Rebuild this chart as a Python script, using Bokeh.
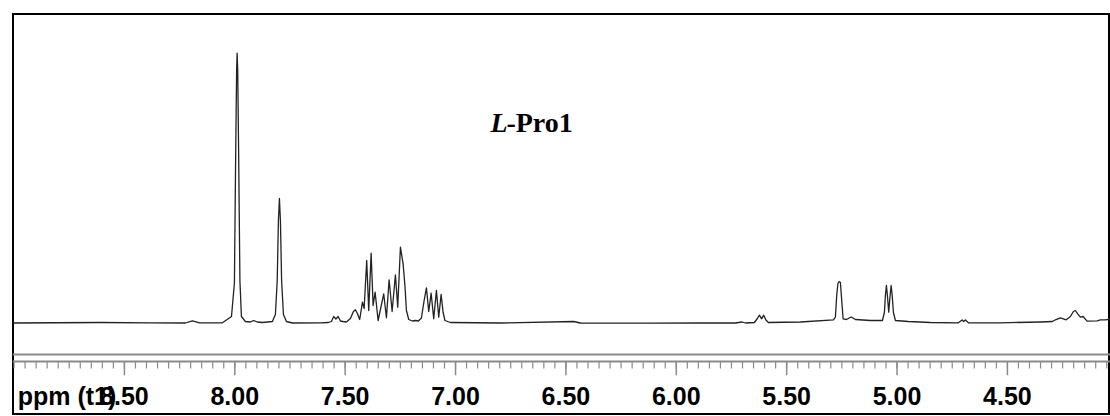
from bokeh.plotting import figure
from bokeh.models import Range1d, FixedTicker, NumeralTickFormatter, Span, Label
from bokeh.embed import file_html
from bokeh.resources import INLINE

# Chemical shift (ppm) and intensity (arbitrary units)
ppm = [9.007, 8.609, 8.382, 8.224, 8.192, 8.160, 8.056, 8.015, 8.0017, 7.9958, 7.9917,
       7.9895, 7.9867, 7.9827, 7.9768, 7.9700, 7.9519, 7.9292, 7.9156, 7.8975, 7.8748,
       7.8295, 7.8160, 7.8078, 7.8024, 7.7978, 7.7933, 7.7879, 7.7797, 7.7661, 7.7389,
       7.6121, 7.5759, 7.5623, 7.5519, 7.5419, 7.5319, 7.5215, 7.5093, 7.4943, 7.4762,
       7.4626, 7.4536, 7.4445, 7.4341, 7.4218, 7.4141, 7.4024, 7.3933, 7.3824, 7.3734,
       7.3643, 7.3507, 7.3254, 7.3131, 7.3009, 7.2873, 7.2724, 7.2619, 7.2497, 7.2375,
       7.2293, 7.2225, 7.2121, 7.1953, 7.1818, 7.1682, 7.1546, 7.1423, 7.1319, 7.1215,
       7.1106, 7.0989, 7.0866, 7.0762, 7.0653, 7.0563, 7.0481, 7.0232, 6.7967, 6.4660,
       6.4343, 6.1172, 5.8907, 5.7322, 5.7018, 5.6869, 5.6461, 5.6325, 5.6234, 5.6135,
       5.6040, 5.5940, 5.5827, 5.4377, 5.2882, 5.2792, 5.2733, 5.2678, 5.2624, 5.2565,
       5.2506, 5.2443, 5.2293, 5.2080, 5.1886, 5.1206, 5.0662, 5.0572, 5.0527, 5.0481,
       5.0436, 5.0377, 5.0314, 5.0268, 5.0219, 5.0164, 5.0074, 4.9485, 4.8488, 4.7220,
       4.7052, 4.6980, 4.6903, 4.6767, 4.5317, 4.3505, 4.2961, 4.2826, 4.2599, 4.2341,
       4.2146, 4.2010, 4.1920, 4.1815, 4.1693, 4.1571, 4.1390, 4.0937, 4.0787, 4.0561,
       4.0334]
intensity = [0.0, 0.5, 0.2, 0.0, 2.2, 0.2, 0.2, 6.5, 40.0, 172.5, 252.5,
             269.8, 252.5, 172.5, 42.5, 6.5, 1.5, 1.0, 2.5, 1.0, 0.5,
             1.5, 8.5, 42.5, 102.5, 124.5, 102.5, 42.5, 8.5, 1.5, 0.0,
             0.2, 0.5, 1.5, 6.5, 4.0, 6.5, 2.0, 1.5, 1.0, 4.5,
             11.5, 13.2, 9.5, 3.5, 20.8, 14.5, 62.5, 12.5, 69.8, 17.5,
             30.8, 2.5, 29.2, 5.2, 43.2, 11.5, 48.2, 15.8, 75.8, 59.2,
             37.5, 12.5, 3.5, 2.0, 2.5, 2.0, 5.0, 22.5, 35.2, 11.5,
             29.8, 4.2, 32.5, 5.8, 28.5, 10.5, 2.5, 0.5, 0.0, 1.5,
             0.0, -0.2, 0.0, 0.0, 1.0, 0.0, 0.5, 4.5, 7.8, 4.2,
             7.8, 3.0, 0.5, 1.0, 3.2, 5.8, 27.5, 39.5, 41.5, 40.5,
             22.5, 4.2, 3.5, 6.0, 3.5, 2.5, 2.5, 10.5, 27.5, 37.5,
             27.5, 10.8, 27.5, 37.5, 27.5, 10.5, 2.5, 1.5, 0.5, 0.2,
             3.0, 1.5, 3.0, 0.2, 0.2, 1.0, 1.5, 3.2, 5.2, 3.2,
             6.5, 11.5, 12.5, 9.2, 5.8, 6.5, 1.8, 2.2, 3.2, 3.2,
             3.8]

major_ticks = [8.5, 8.0, 7.5, 7.0, 6.5, 6.0, 5.5, 5.0, 4.5]
minor_ticks = [round(9.0 - 0.05 * i, 2) for i in range(100)]
axis_title = "ppm (t1)"
axis_title_at = 8.76   # centre of the axis title along the ppm scale
compound_italic = "L"
compound_rest = "-Pro1"

# vertical layout of the scale strip, in intensity units below the baseline
separator_y = -31.5
scale_line_y = -38.5
minor_tick_end = -45.5
major_tick_end = -52.5

p = figure(width=1098, height=402, margin=(13, 0, 1, 12),
           x_range=Range1d(9.007, 4.033), y_range=Range1d(major_tick_end, 309.5),
           output_backend="svg", toolbar_location=None,
           min_border_left=0, min_border_right=0, min_border_top=0, min_border_bottom=40,
           y_axis_location=None,
           styles={"outline": "2px solid black", "outline-offset": "-2px",
                   "box-shadow": "inset 0 0 0 2px black"})
p.outline_line_color = None
p.xgrid.visible = False
p.ygrid.visible = False
p.background_fill_color = None
p.border_fill_color = None

ax = p.xaxis[0]
ax.ticker = FixedTicker(ticks=[axis_title_at] + major_ticks, minor_ticks=[])
ax.formatter = NumeralTickFormatter(format="0.00")
ax.major_label_overrides = {axis_title_at: axis_title}
ax.axis_line_color = None
ax.major_tick_line_color = None
ax.minor_tick_line_color = None
ax.major_tick_in = 0
ax.major_tick_out = 0
ax.minor_tick_in = 0
ax.minor_tick_out = 0
ax.major_label_text_font = "Liberation Sans"
ax.major_label_text_font_style = "bold"
ax.major_label_text_font_size = "25px"
ax.major_label_text_color = "black"
ax.major_label_standoff = 6

# ppm scale: separator line, scale line and tick marks
p.add_layout(Span(location=separator_y, dimension="width", line_color="#8a8a8a", line_width=2))
p.add_layout(Span(location=scale_line_y, dimension="width", line_color="#8a8a8a", line_width=2))
p.segment(x0=minor_ticks, y0=scale_line_y, x1=minor_ticks, y1=minor_tick_end,
          line_color="#8a8a8a", line_width=1.2)
p.segment(x0=major_ticks, y0=scale_line_y, x1=major_ticks, y1=major_tick_end,
          line_color="#8a8a8a", line_width=1.5)

p.line(ppm, intensity, line_color="#222222", line_width=1.3, line_join="round")

p.add_layout(Label(x=6.842, y=200.8, text=compound_italic, text_font="Liberation Serif",
                   text_font_style="bold italic", text_font_size="28px", text_color="black",
                   text_baseline="alphabetic"))
p.add_layout(Label(x=6.842, y=200.8, x_offset=16, text=compound_rest, text_font="Liberation Serif",
                   text_font_style="bold", text_font_size="28px", text_color="black",
                   text_baseline="alphabetic"))

open("out.html", "w").write(file_html(p, INLINE))
